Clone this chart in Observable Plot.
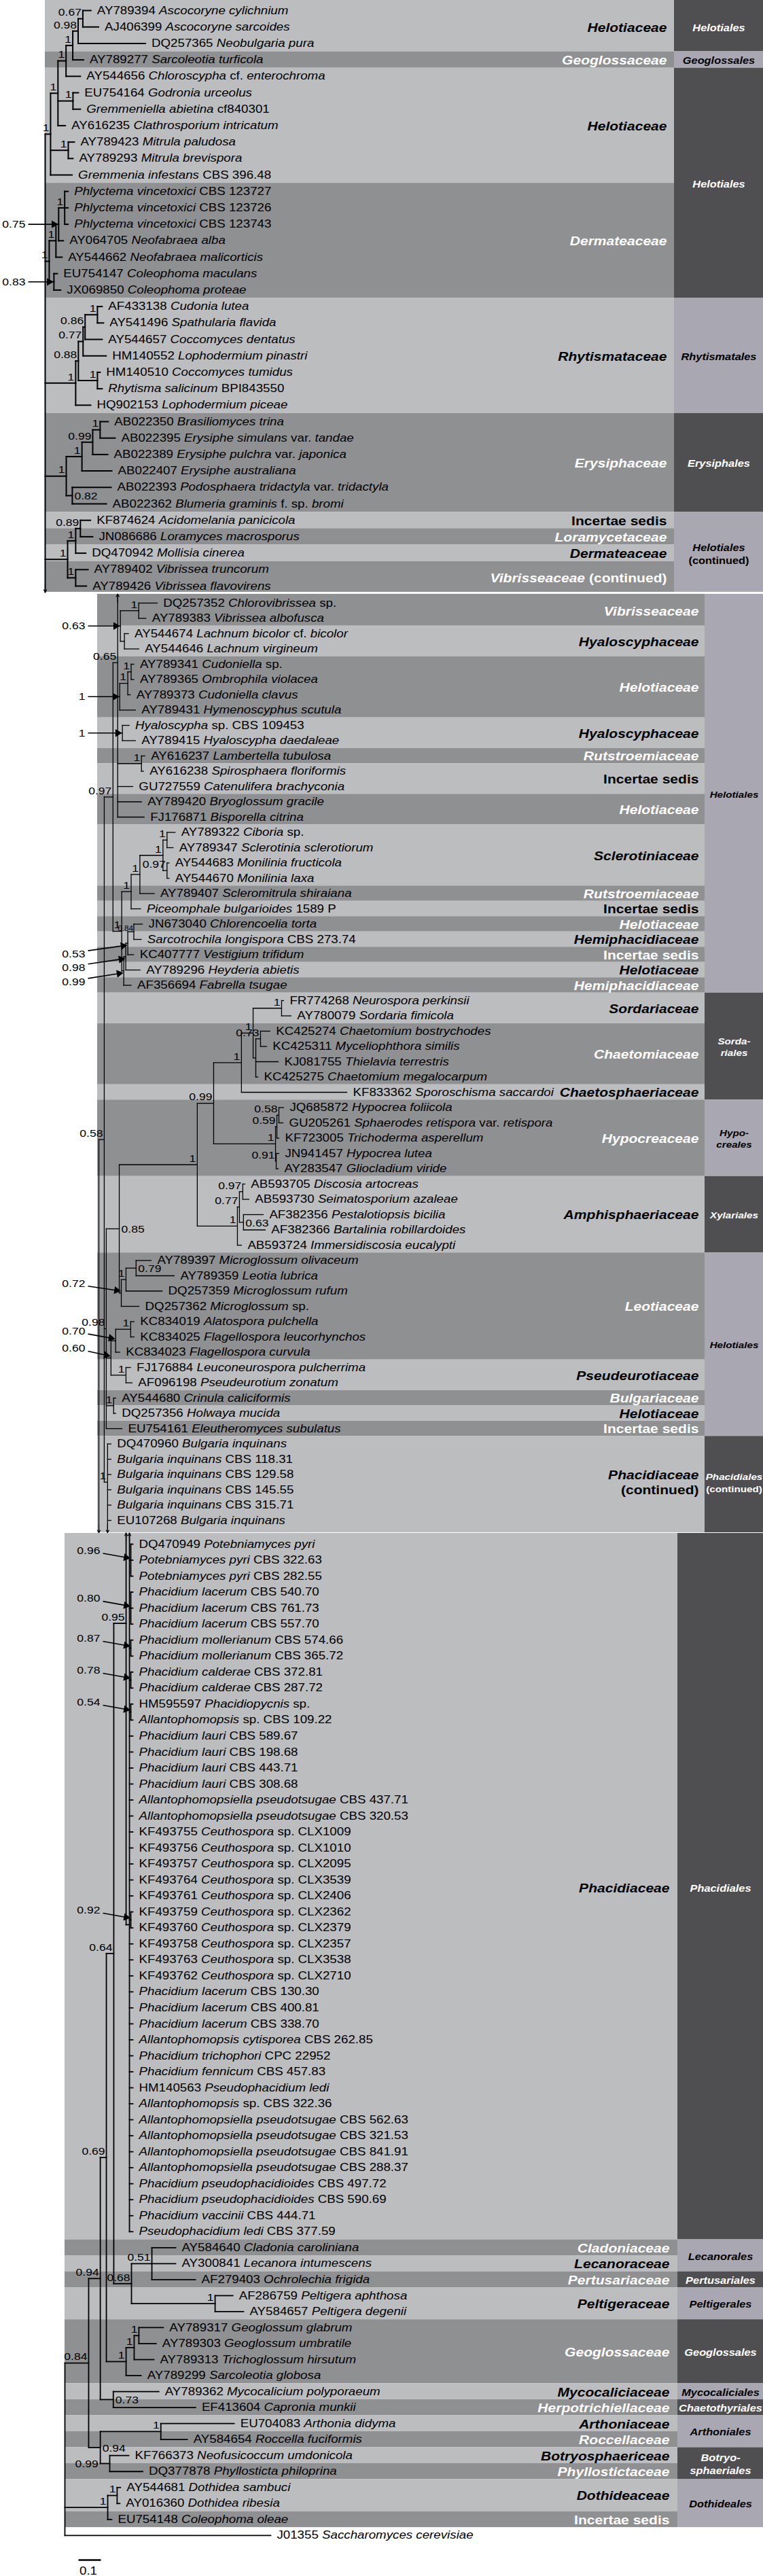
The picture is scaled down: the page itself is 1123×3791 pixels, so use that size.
<!DOCTYPE html>
<html>
<head>
<meta charset="utf-8">
<script src="https://cdn.jsdelivr.net/npm/d3@7"></script>
<script src="https://cdn.jsdelivr.net/npm/@observablehq/plot@0.6"></script>
<style>
html,body{margin:0;padding:0;background:#fff;}
#chart{width:1123px;}
#chart svg{display:block;}
</style>
</head>
<body>
<div id="chart"></div>
<script>
// ---------------- DATA ----------------
// Tip labels (*...* = italic)
const panel1Tips = [
 "AY789394 *Ascocoryne cylichnium*","AJ406399 *Ascocoryne sarcoides*","DQ257365 *Neobulgaria pura*",
 "AY789277 *Sarcoleotia turficola*","AY544656 *Chloroscypha* cf. *enterochroma*","EU754164 *Godronia urceolus*",
 "*Gremmeniella abietina* cf840301","AY616235 *Clathrosporium intricatum*","AY789423 *Mitrula paludosa*",
 "AY789293 *Mitrula brevispora*","*Gremmenia infestans* CBS 396.48","*Phlyctema vincetoxici* CBS 123727",
 "*Phlyctema vincetoxici* CBS 123726","*Phlyctema vincetoxici* CBS 123743","AY064705 *Neofabraea alba*",
 "AY544662 *Neofabraea malicorticis*","EU754147 *Coleophoma maculans*","JX069850 *Coleophoma proteae*",
 "AF433138 *Cudonia lutea*","AY541496 *Spathularia flavida*","AY544657 *Coccomyces dentatus*",
 "HM140552 *Lophodermium pinastri*","HM140510 *Coccomyces tumidus*","*Rhytisma salicinum* BPI843550",
 "HQ902153 *Lophodermium piceae*","AB022350 *Brasiliomyces trina*","AB022395 *Erysiphe simulans* var. *tandae*",
 "AB022389 *Erysiphe pulchra* var. *japonica*","AB022407 *Erysiphe australiana*",
 "AB022393 *Podosphaera tridactyla* var. *tridactyla*","AB022362 *Blumeria graminis* f. sp. *bromi*",
 "KF874624 *Acidomelania panicicola*","JN086686 *Loramyces macrosporus*","DQ470942 *Mollisia cinerea*",
 "AY789402 *Vibrissea truncorum*","AY789426 *Vibrissea flavovirens*"
];
const panel2Tips = [
 "DQ257352 *Chlorovibrissea* sp.","AY789383 *Vibrissea albofusca*","AY544674 *Lachnum bicolor* cf. *bicolor*",
 "AY544646 *Lachnum virgineum*","AY789341 *Cudoniella* sp.","AY789365 *Ombrophila violacea*",
 "AY789373 *Cudoniella clavus*","AY789431 *Hymenoscyphus scutula*","*Hyaloscypha* sp. CBS 109453",
 "AY789415 *Hyaloscypha daedaleae*","AY616237 *Lambertella tubulosa*","AY616238 *Spirosphaera floriformis*",
 "GU727559 *Catenulifera brachyconia*","AY789420 *Bryoglossum gracile*","FJ176871 *Bisporella citrina*",
 "AY789322 *Ciboria* sp.","AY789347 *Sclerotinia sclerotiorum*","AY544683 *Monilinia fructicola*",
 "AY544670 *Monilinia laxa*","AY789407 *Scleromitrula shiraiana*","*Piceomphale bulgarioides* 1589 P",
 "JN673040 *Chlorencoelia torta*","*Sarcotrochila longispora* CBS 273.74","KC407777 *Vestigium trifidum*",
 "AY789296 *Heyderia abietis*","AF356694 *Fabrella tsugae*","FR774268 *Neurospora perkinsii*",
 "AY780079 *Sordaria fimicola*","KC425274 *Chaetomium bostrychodes*","KC425311 *Myceliophthora similis*",
 "KJ081755 *Thielavia terrestris*","KC425275 *Chaetomium megalocarpum*","KF833362 *Sporoschisma saccardoi*",
 "JQ685872 *Hypocrea foliicola*","GU205261 *Sphaerodes retispora* var. *retispora*","KF723005 *Trichoderma asperellum*",
 "JN941457 *Hypocrea lutea*","AY283547 *Gliocladium viride*","AB593705 *Discosia artocreas*",
 "AB593730 *Seimatosporium azaleae*","AF382356 *Pestalotiopsis bicilia*","AF382366 *Bartalinia robillardoides*",
 "AB593724 *Immersidiscosia eucalypti*","AY789397 *Microglossum olivaceum*","AY789359 *Leotia lubrica*",
 "DQ257359 *Microglossum rufum*","DQ257362 *Microglossum* sp.","KC834019 *Alatospora pulchella*",
 "KC834025 *Flagellospora leucorhynchos*","KC834023 *Flagellospora curvula*","FJ176884 *Leuconeurospora pulcherrima*",
 "AF096198 *Pseudeurotium zonatum*","AY544680 *Crinula caliciformis*","DQ257356 *Holwaya mucida*",
 "EU754161 *Eleutheromyces subulatus*","DQ470960 *Bulgaria inquinans*","*Bulgaria inquinans* CBS 118.31",
 "*Bulgaria inquinans* CBS 129.58","*Bulgaria inquinans* CBS 145.55","*Bulgaria inquinans* CBS 315.71",
 "EU107268 *Bulgaria inquinans*"
];
const panel3Tips = [
 "DQ470949 *Potebniamyces pyri*","*Potebniamyces pyri* CBS 322.63","*Potebniamyces pyri* CBS 282.55",
 "*Phacidium lacerum* CBS 540.70","*Phacidium lacerum* CBS 761.73","*Phacidium lacerum* CBS 557.70",
 "*Phacidium mollerianum* CBS 574.66","*Phacidium mollerianum* CBS 365.72","*Phacidium calderae* CBS 372.81",
 "*Phacidium calderae* CBS 287.72","HM595597 *Phacidiopycnis* sp.","*Allantophomopsis* sp. CBS 109.22",
 "*Phacidium lauri* CBS 589.67","*Phacidium lauri* CBS 198.68","*Phacidium lauri* CBS 443.71",
 "*Phacidium lauri* CBS 308.68","*Allantophomopsiella pseudotsugae* CBS 437.71","*Allantophomopsiella pseudotsugae* CBS 320.53",
 "KF493755 *Ceuthospora* sp. CLX1009","KF493756 *Ceuthospora* sp. CLX1010","KF493757 *Ceuthospora* sp. CLX2095",
 "KF493764 *Ceuthospora* sp. CLX3539","KF493761 *Ceuthospora* sp. CLX2406","KF493759 *Ceuthospora* sp. CLX2362",
 "KF493760 *Ceuthospora* sp. CLX2379","KF493758 *Ceuthospora* sp. CLX2357","KF493763 *Ceuthospora* sp. CLX3538",
 "KF493762 *Ceuthospora* sp. CLX2710","*Phacidium lacerum* CBS 130.30","*Phacidium lacerum* CBS 400.81",
 "*Phacidium lacerum* CBS 338.70","*Allantophomopsis cytisporea* CBS 262.85","*Phacidium trichophori* CPC 22952",
 "*Phacidium fennicum* CBS 457.83","HM140563 *Pseudophacidium ledi*","*Allantophomopsis* sp. CBS 322.36",
 "*Allantophomopsiella pseudotsugae* CBS 562.63","*Allantophomopsiella pseudotsugae* CBS 321.53",
 "*Allantophomopsiella pseudotsugae* CBS 841.91","*Allantophomopsiella pseudotsugae* CBS 288.37",
 "*Phacidium pseudophacidioides* CBS 497.72","*Phacidium pseudophacidioides* CBS 590.69","*Phacidium vaccinii* CBS 444.71",
 "*Pseudophacidium ledi* CBS 377.59","AY584640 *Cladonia caroliniana*","AY300841 *Lecanora intumescens*",
 "AF279403 *Ochrolechia frigida*","AF286759 *Peltigera aphthosa*","AY584657 *Peltigera degenii*",
 "AY789317 *Geoglossum glabrum*","AY789303 *Geoglossum umbratile*","AY789313 *Trichoglossum hirsutum*",
 "AY789299 *Sarcoleotia globosa*","AY789362 *Mycocalicium polyporaeum*","EF413604 *Capronia munkii*",
 "EU704083 *Arthonia didyma*","AY584654 *Roccella fuciformis*","KF766373 *Neofusicoccum umdonicola*",
 "DQ377878 *Phyllosticta philoprina*","AY544681 *Dothidea sambuci*","AY016360 *Dothidea ribesia*",
 "EU754148 *Coleophoma oleae*","J01355 *Saccharomyces cerevisiae*"
];

// Trees (Newick; tN = tip N, ^/v = continuation to the panel above/below; branch lengths in subst./site;
// node labels = posterior probabilities, suffix → ↗ ↘ = label with arrow, R = right of node,
// P = left of parent line, s = small)
const p1_H1 = "((((((t0:0.036,t1:0.070)0.67:0.021,t2:0.300)0.98:0.024,t3:0.048)1:0.030,t4:0.064)1:0.036,(t5:0.024,t6:0.033)1:0.067,t7:0.033)1:0.033,(t8:0.027,t9:0.021)1:0.079,t10:0.096)1:0.024";
const p1_Derm = "((((t11:0.015,t12:0.015,t13:0.015)1:0.027,t14:0.021)0.75→:0.012,t15:0.027)1:0.030,(t16:0.015,t17:0.030)0.83→:0.021)1:0.018";
const p1_Rhyt = "(((((t18:0.021,t19:0.027)1:0.055,t20:0.076)0.86:0.009,t21:0.103)0.77:0.021,(t22:0.012,t23:0.021)1:0.085)0.88:0.012,t24:0.067)1:0.136";
const p1_Erys = "((((t25:0.036,t26:0.067)1:0.033,t27:0.067)0.99:0.048,t28:0.133)1:0.070,(t29:0.173,t30:0.152)0.82R:0.027)1:0.094";
const p1_HelCont = "(((t31:0.045,t32:0.055)0.89:0.021,t33:0.045)1:0.036,(t34:0.055,t35:0.048)1:0.036)1:0.100";
const panel1Newick = "(" + [p1_H1, p1_Derm, p1_Rhyt, p1_Erys, p1_HelCont].join(",") + ",v36:0);";

const p2_N173 = "(^-6.2:0,((t0:0.082,t1:0.032)1:0.082,(t2:0.018,t3:0.064):0.018)0.63→:0.012,(((t4:0.012,t5:0.012)1:0.015,t6:0.011)1:0.036,t7:0.070)1→:0.009,(t8:0.030,t9:0.058)1→:0.021,(t10:0.015,t11:0.009)1:0.106,t12:0.067,t13:0.106,t14:0.118)0.65:0.021";
const p2_Y = "((((t15:0.036,t16:0.027)1:0.018,(t17:0.009,t18:0.009)0.97:0.018)1:0.103,t19:0.064)1:0.039,t20:0.042)1:0.042";
const p2_N099 = "((((t21:0.038,t22:0.033)0.84s:0.027,t23:0.026)0.53↗:0.009,t24:0.064)0.98↗:0.009,t25:0.033)0.99↗:0.009";
const p2_S1 = "(((((t26:0.009,t27:0.042)1:0.127,((t28:0.042,t29:0.027)0.73:0.021,t30:0.100,t31:0.009):0.012)1:0.052,t32:0.470)1:0.124,(((t33:0.021,t34:0.018)0.58:0.009,t35:0.009)0.59:0.006,(t36:0.012,t37:0.009)0.91:0.003)1:0.276)0.99:0.073,(((t38:0.009,t39:0.027)0.97:0.015,(t40:0.088,t41:0.097)0.63R:0.018)0.77:0.009,t42:0.018)1:0.179)1:0.348";
const p2_Leo = "(((t43:0.067,t44:0.170)0.79R:0.045,t45:0.161)1:0.021,t46:0.079)0.72↘:0.009";
const p2_N060 = "(((t47:0.015,t48:0.015)1:0.067,t49:0.018)0.70↘:0.021,(t50:0.020,t51:0.027)1:0.067)0.60↘:0.021";
const p2_Bulg = "(t55:0.015,t56:0.015,t57:0.015,t58:0.015,t59:0.015,t60:0.015,v60:0)1:0.015";
const panel2Newick = "(((" + p2_N173 + ",(" + p2_Y + "," + p2_N099 + ")1:0.039)0.97:0.039,((" + p2_S1 + "," + p2_Leo +
  ")0.85R:0.058," + p2_N060 + ",(t52:0.009,t53:0.009)1:0.033,t54:0.070)0.98:0.009," + p2_Bulg + ")0.58:0.024,v99:0);";

const p3_PHAC = "(^4.6:0,(t0:0.009,t1:0.009,t2:0.009)0.96↘:0.006,(t3:0.009,t4:0.009,t5:0.009)0.80↘:0.006,(t6:0.009,t7:0.009)0.87↘:0.006,(t8:0.009,t9:0.009)0.78↘:0.006,(t10:0.009,t11:0.009)0.54↘:0.006,t12:0.015,t13:0.015,t14:0.015,t15:0.015,t16:0.015,t17:0.015,t18:0.015,t19:0.015,t20:0.015,t21:0.015,t22:0.015,(t23:0.009,t24:0.009)0.92↘:0.006,t25:0.015,t26:0.015,t27:0.015,t28:0.015,t29:0.015,t30:0.015,t31:0.015,t32:0.015,t33:0.015,t34:0.015,t35:0.015,t36:0.015,t37:0.015,t38:0.015,t39:0.015,t40:0.015,t41:0.015,t42:0.015,t43:0.015):0.015";
const p3_N068 = "((t44:0.106,t45:0.106,t46:0.194)0.51:0.091,(t47:0.079,t48:0.127)1:0.373)0.68:0.079";
const p3_G1 = "(((t49:0.109,t50:0.077)1:0.021,t51:0.088)1:0.036,t52:0.067)1:0.088";
const p3_N094b = "((t55:0.327,t56:0.118)1:0.270,(t57:0.085,t58:0.147)0.99P:0.042)0.94R:0.052";
const p3_Doth = "((t59:0.015,t60:0.012)1:0.042,t61:0.018)1:0.191";
const panel3Newick = "((((((^-13.9:0," + p3_PHAC + ")0.95:0.055," + p3_N068 + ")0.64:0.033," + p3_G1 +
  ")0.69:0.027,(t53:0.203,t54:0.367)0.73R:0.058)0.94:0.052," + p3_N094b + ")0.84:0.106," + p3_Doth + ",t62:0.918);";

// Families: [label, first row, last row, shade]
const panel1Families = [
 ["*Helotiaceae*",0,2,"L"],["*Geoglossaceae*",3,3,"D"],["*Helotiaceae*",4,10,"L"],["*Dermateaceae*",11,17,"D"],
 ["*Rhytismataceae*",18,24,"L"],["*Erysiphaceae*",25,30,"D"],["Incertae sedis",31,31,"L"],["*Loramycetaceae*",32,32,"D"],
 ["*Dermateaceae*",33,33,"L"],["*Vibrisseaceae* (continued)",34,35,"D"]
];
const panel1Orders = [
 ["*Helotiales*",0,2,"D"],["*Geoglossales*",3,3,"L"],["*Helotiales*",4,17,"D"],["*Rhytismatales*",18,24,"L"],
 ["*Erysiphales*",25,30,"D"],["*Helotiales*\n(continued)",31,35,"L"]
];
const panel2Families = [
 ["*Vibrisseaceae*",0,1,"D"],["*Hyaloscyphaceae*",2,3,"L"],["*Helotiaceae*",4,7,"D"],["*Hyaloscyphaceae*",8,9,"L"],
 ["*Rutstroemiaceae*",10,10,"D"],["Incertae sedis",11,12,"L"],["*Helotiaceae*",13,14,"D"],["*Sclerotiniaceae*",15,18,"L"],
 ["*Rutstroemiaceae*",19,19,"D"],["Incertae sedis",20,20,"L"],["*Helotiaceae*",21,21,"D"],["*Hemiphacidiaceae*",22,22,"L"],
 ["Incertae sedis",23,23,"D"],["*Helotiaceae*",24,24,"L"],["*Hemiphacidiaceae*",25,25,"D"],["*Sordariaceae*",26,27,"L"],
 ["*Chaetomiaceae*",28,31,"D"],["*Chaetosphaeriaceae*",32,32,"L"],["*Hypocreaceae*",33,37,"D"],["*Amphisphaeriaceae*",38,42,"L"],
 ["*Leotiaceae*",43,49,"D"],["*Pseudeurotiaceae*",50,51,"L"],["*Bulgariaceae*",52,52,"D"],["*Helotiaceae*",53,53,"L"],
 ["Incertae sedis",54,54,"D"],["*Phacidiaceae*\n(continued)",55,60,"L"]
];
const panel2Orders = [
 ["*Helotiales*",0,25,"L"],["*Sorda-*\n*riales*",26,32,"D"],["*Hypo-*\n*creales*",33,37,"L"],["*Xylariales*",38,42,"D"],
 ["*Helotiales*",43,54,"L"],["*Phacidiales*\n(continued)",55,60,"D"]
];
const panel3Families = [
 ["*Phacidiaceae*",0,43,"L"],["*Cladoniaceae*",44,44,"D"],["*Lecanoraceae*",45,45,"L"],["*Pertusariaceae*",46,46,"D"],
 ["*Peltigeraceae*",47,48,"L"],["*Geoglossaceae*",49,52,"D"],["*Mycocaliciaceae*",53,53,"L"],["*Herpotrichiellaceae*",54,54,"D"],
 ["*Arthoniaceae*",55,55,"L"],["*Roccellaceae*",56,56,"D"],["*Botryosphaericeae*",57,57,"L"],["*Phyllostictaceae*",58,58,"D"],
 ["*Dothideaceae*",59,60,"L"],["Incertae sedis",61,61,"D"]
];
const panel3Orders = [
 ["*Phacidiales*",0,43,"D"],["*Lecanorales*",44,45,"L"],["*Pertusariales*",46,46,"D"],["*Peltigerales*",47,48,"L"],
 ["*Geoglossales*",49,52,"D"],["*Mycocaliciales*",53,53,"L"],["*Chaetothyriales*",54,54,"D"],["*Arthoniales*",55,56,"L"],
 ["*Botryo-*\n*sphaeriales*",57,58,"D"],["*Dothideales*",59,61,"L"]
];
const scaleBar = [{length: 0.1, label: "0.1"}];

// ---------------- STYLE / LAYOUT ----------------
const PX = 330; // pixels per substitution/site
const SHADE = {L: "#bcbdbf", D: "#8f9092"};
const ORDER_SHADE = {L: "#a9a7b2", D: "#4f4f52"};
const INK = {L: "#000000", D: "#ffffff"};
const FONT = "Liberation Sans, Arimo, Arial, Helvetica, sans-serif";
const STRETCH = 1.17;

const panels = [
 {newick: panel1Newick, tips: panel1Tips, families: panel1Families, orders: panel1Orders,
  height: 873, x0: 66, yFirst: 15, pitch: 24.2, topRow: -0.62, bottomRow: 35.37,
  famX1: 66, famX2: 992, famLabelRight: 981, ordFont: 14, arrowRight: 37, stroke: 2},
 {newick: panel2Newick, tips: panel2Tips, families: panel2Families, orders: panel2Orders,
  height: 1382, x0: 145, yFirst: 14, pitch: 22.5, topRow: -0.58, bottomRow: 60.8,
  famX1: 143, famX2: 1037, famLabelRight: 1028, ordFont: 13, arrowRight: 125, stroke: 1.3},
 {newick: panel3Newick, tips: panel3Tips, families: panel3Families, orders: panel3Orders,
  height: 1536, x0: 95, yFirst: 17, pitch: 23.53, topRow: -0.68, bottomRow: 61.5,
  famX1: 95, famX2: 997, famLabelRight: 985, ordFont: 14, arrowRight: 147, stroke: 1.8, scaleBarX: 115}
];

function parseNewick(s) {
  let i = 0;
  function node() {
    const n = {children: [], label: "", length: 0};
    if (s[i] === "(") {
      i++;
      n.children.push(node());
      while (s[i] === ",") { i++; n.children.push(node()); }
      i++; // ')'
    }
    let lab = "";
    while (i < s.length && !",():;".includes(s[i])) lab += s[i++];
    n.label = lab.trim();
    if (s[i] === ":") {
      i++; let num = "";
      while (i < s.length && !",();".includes(s[i])) num += s[i++];
      n.length = +num;
    }
    return n;
  }
  return node();
}

function applyMarkup(el) {
  const s = el.textContent;
  if (!s.includes("*")) return;
  el.textContent = "";
  s.split("*").forEach((part, k) => {
    if (!part) return;
    const t = document.createElementNS("http://www.w3.org/2000/svg", "tspan");
    t.textContent = part;
    if (k % 2 === 1) t.setAttribute("font-style", "italic");
    el.appendChild(t);
  });
}

function renderPanel(cfg) {
  const root = parseNewick(cfg.newick);
  const nodes = [];
  (function walk(n, px, parent) {
    n.x = px + n.length; n.parent = parent; nodes.push(n);
    if (n.children.length) {
      n.children.forEach(c => walk(c, n.x, n));
      n.y = (n.children[0].y + n.children[n.children.length - 1].y) / 2;
    } else if (n.label[0] === "t") {
      n.tip = +n.label.slice(1); n.y = n.tip;
    } else {
      n.ghost = n.label[0] === "^" ? "up" : "down"; n.y = +n.label.slice(1);
    }
  })(root, 0, null);

  const toX = px => (px - cfg.x0) / PX;
  const dRow = px => px / cfg.pitch;
  const drawY = n => n.ghost === "up" ? cfg.topRow : n.ghost === "down" ? cfg.bottomRow : n.y;

  const branches = [];
  for (const n of nodes) {
    if (n.children.length) {
      const ys = n.children.map(drawY);
      branches.push({x1: n.x, x2: n.x, y1: d3.min(ys), y2: d3.max(ys)});
    }
    if (n.parent && !n.ghost) branches.push({x1: n.parent.x, x2: n.x, y1: n.y, y2: n.y});
  }
  const ghosts = nodes.filter(n => n.ghost).map(n => {
    const e = drawY(n), dir = n.ghost === "up" ? 1 : -1;
    return {x: n.parent.x, y1: e + dir * dRow(12), y2: e};
  });
  const tips = nodes.filter(n => n.tip !== undefined).map(n => ({x: n.x, y: n.y, text: cfg.tips[n.tip]}));
  const supports = nodes.filter(n => n.children.length && n.label).map(n => {
    const m = n.label.match(/^([0-9.]+)(.*)$/);
    return {x: n.x, y: n.y, px: n.parent ? n.parent.x : n.x, value: m[1], style: m[2]};
  });
  const arrowDY = {"→": 0, "↗": 16, "↘": -14};
  const pointed = supports.filter(s => s.style in arrowDY).map(s => {
    const ly = s.y + dRow(arrowDY[s.style]);
    const sy = s.style === "→" ? 0 : s.style === "↗" ? -dRow(5) : dRow(4);
    const ty = s.style === "→" ? 0 : s.style === "↗" ? dRow(3) : -dRow(3);
    const p = {value: s.value, lx: toX(cfg.arrowRight), ly, x1: toX(cfg.arrowRight + 4), y1: ly + sy, x2: s.x - 2 / PX, y2: s.y + ty};
    // filled arrowhead: direction in pixels
    const dxp = (p.x2 - p.x1) * PX, dyp = (p.y2 - p.y1) * cfg.pitch, L = Math.hypot(dxp, dyp);
    const ux = dxp / L, uy = dyp / L;
    p.hx = p.x2 - ux * 5 / PX; p.hy = p.y2 - uy * 5 / cfg.pitch;
    p.ex = p.x2 - ux * 7 / PX; p.ey = p.y2 - uy * 7 / cfg.pitch;
    p.rot = Math.atan2(ux, -uy) * 180 / Math.PI;
    return p;
  });

  const lastRow = d3.max(cfg.families, d => d[2]);
  const by1 = a => a === 0 ? cfg.topRow : a - 0.5;
  const by2 = b => b === lastRow ? cfg.bottomRow : b + 0.5;
  const fam = cfg.families.map(([label, a, b, s]) => ({label, y1: by1(a), y2: by2(b), yc: (a + b) / 2, fill: SHADE[s], ink: INK[s]}));
  const ord = cfg.orders.map(([label, a, b, s]) => ({label, y1: by1(a), y2: by2(b), yc: (a + b) / 2, fill: ORDER_SHADE[s], ink: INK[s]}));

  const marks = [
    Plot.rect(fam, {x1: () => toX(cfg.famX1), x2: () => toX(cfg.famX2), y1: "y1", y2: "y2", fill: "fill"}),
    Plot.rect(ord, {x1: () => toX(cfg.famX2), x2: () => toX(1123), y1: "y1", y2: "y2", fill: "fill"}),
    Plot.text(fam, {x: () => toX(cfg.famLabelRight), y: "yc", text: "label", fill: "ink", textAnchor: "end",
      fontSize: 18, fontWeight: "bold", fontFamily: FONT, lineHeight: 1.2}),
    Plot.text(ord, {x: () => toX((cfg.famX2 + 1123) / 2), y: "yc", text: "label", fill: "ink", textAnchor: "middle",
      fontSize: cfg.ordFont, fontWeight: "bold", fontFamily: FONT, lineHeight: 1.35}),
    Plot.link(branches, {x1: "x1", y1: "y1", x2: "x2", y2: "y2", stroke: "#000", strokeWidth: cfg.stroke, strokeLinecap: "square"}),
    Plot.arrow(ghosts, {x1: "x", x2: "x", y1: "y1", y2: "y2", stroke: "#000", strokeWidth: 1.2, headLength: 7}),
    Plot.text(tips, {x: "x", y: "y", text: "text", textAnchor: "start", dx: 9, fontSize: 16, fontFamily: FONT, fill: "#000"}),
    Plot.text(supports.filter(s => s.style === ""), {x: "x", y: "y", text: "value", textAnchor: "end", dx: -2, dy: -9, fontSize: 15, fontFamily: FONT}),
    Plot.text(supports.filter(s => s.style === "s"), {x: "x", y: "y", text: "value", textAnchor: "end", dx: -1, dy: -4, fontSize: 10, fontFamily: FONT}),
    Plot.text(supports.filter(s => s.style === "R"), {x: "x", y: "y", text: "value", textAnchor: "start", dx: 3, dy: 1, fontSize: 15, fontFamily: FONT}),
    Plot.text(supports.filter(s => s.style === "P"), {x: "px", y: "y", text: "value", textAnchor: "end", dx: -3, dy: 1, fontSize: 15, fontFamily: FONT}),
    Plot.text(pointed, {x: "lx", y: "ly", text: "value", textAnchor: "end", fontSize: 15, fontFamily: FONT}),
    Plot.link(pointed, {x1: "x1", y1: "y1", x2: "ex", y2: "ey", stroke: "#000", strokeWidth: 1.6}),
    Plot.dot(pointed, {x: "hx", y: "hy", rotate: "rot", symbol: "triangle", r: 4.2, fill: "#000", stroke: "none"})
  ];
  if (cfg.scaleBarX !== undefined) {
    const sb = scaleBar.map(d => ({x1: toX(cfg.scaleBarX), x2: toX(cfg.scaleBarX) + d.length, y: cfg.tips.length + 0.54, label: d.label}));
    marks.push(
      Plot.link(sb, {x1: "x1", x2: "x2", y1: "y", y2: "y", stroke: "#000", strokeWidth: 2.5}),
      Plot.text(sb, {x: d => (d.x1 + d.x2) / 2 - 2 / PX, y: d => d.y + dRow(16), text: "label", fontSize: 16, fontFamily: FONT})
    );
  }
  const n = cfg.tips.length;
  const svg = Plot.plot({
    width: 1123, height: cfg.height, margin: 0,
    x: {domain: [0, 3], range: [cfg.x0, cfg.x0 + 3 * PX], axis: null},
    y: {domain: [0, n - 1], range: [cfg.yFirst, cfg.yFirst + (n - 1) * cfg.pitch], axis: null},
    color: {type: "identity"},
    style: {overflow: "visible", background: "transparent", fontFamily: FONT},
    marks
  });
  svg.querySelectorAll("text").forEach(t => {
    const tr = t.getAttribute("transform");
    if (tr) t.setAttribute("transform", tr + ` scale(${STRETCH},1)`);
    t.setAttributeNS("http://www.w3.org/XML/1998/namespace", "xml:space", "preserve");
    const lines = t.querySelectorAll("tspan");
    if (lines.length) lines.forEach(applyMarkup); else applyMarkup(t);
  });
  return svg;
}

const chart = document.getElementById("chart");
for (const cfg of panels) chart.appendChild(renderPanel(cfg));
</script>
</body>
</html>
